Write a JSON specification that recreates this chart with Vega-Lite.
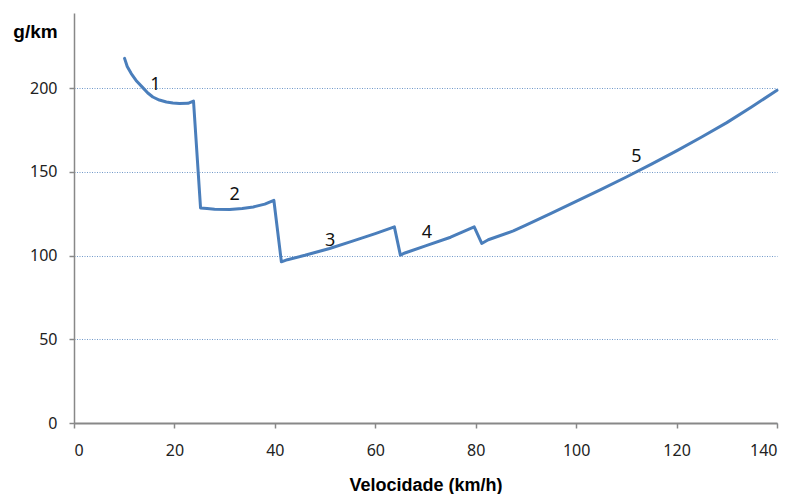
{
  "$schema": "https://vega.github.io/schema/vega-lite/v6.json",
  "autosize": "none",
  "width": 703,
  "height": 410,
  "padding": {"left": 74, "top": 13, "right": 15, "bottom": 71},
  "background": "white",
  "config": {
    "view": {"stroke": null},
    "font": "Noto Sans"
  },
  "datasets": {
    "curve": [
      {"v": 10.07, "e": 217.9}, {"v": 10.6, "e": 213.0}, {"v": 11.4, "e": 208.8}, {"v": 12.5, "e": 204.2},
      {"v": 13.7, "e": 200.4}, {"v": 14.7, "e": 197.2}, {"v": 15.7, "e": 194.8}, {"v": 17.0, "e": 193.0}, {"v": 18.4, "e": 191.8},
      {"v": 19.7, "e": 191.2}, {"v": 21.0, "e": 190.9}, {"v": 22.7, "e": 191.0}, {"v": 23.8, "e": 192.4}, {"v": 25.2, "e": 128.5},
      {"v": 26.5, "e": 128.2}, {"v": 28.0, "e": 127.8}, {"v": 31.0, "e": 127.6}, {"v": 33.5, "e": 128.2},
      {"v": 35.7, "e": 129.1}, {"v": 38.0, "e": 130.8}, {"v": 39.8, "e": 133.1}, {"v": 41.3, "e": 96.3},
      {"v": 42.5, "e": 97.6}, {"v": 46.0, "e": 100.2}, {"v": 50.9, "e": 104.3}, {"v": 55.0, "e": 108.2},
      {"v": 60.0, "e": 113.2}, {"v": 63.8, "e": 117.2}, {"v": 65.0, "e": 100.3}, {"v": 65.9, "e": 101.6},
      {"v": 70.0, "e": 105.8}, {"v": 75.0, "e": 111.0}, {"v": 79.7, "e": 117.2}, {"v": 81.2, "e": 107.3},
      {"v": 82.5, "e": 109.5}, {"v": 87.5, "e": 114.8}, {"v": 90.0, "e": 118.2}, {"v": 95.0, "e": 125.2},
      {"v": 100.0, "e": 132.4}, {"v": 105.0, "e": 139.6}, {"v": 110.0, "e": 147.0}, {"v": 115.0, "e": 154.7},
      {"v": 120.0, "e": 162.6}, {"v": 125.0, "e": 170.9}, {"v": 130.0, "e": 179.5}, {"v": 135.0, "e": 189.0},
      {"v": 140.0, "e": 198.8}
    ],
    "labels": [
      {"v": 16.2, "e": 202, "t": "1"},
      {"v": 32.0, "e": 136, "t": "2"},
      {"v": 51.0, "e": 109, "t": "3"},
      {"v": 70.3, "e": 113.4, "t": "4"},
      {"v": 112.0, "e": 159, "t": "5"}
    ]
  },
  "encoding": {
    "x": {
      "field": "v", "type": "quantitative",
      "scale": {"domain": [0, 140], "nice": false, "zero": true},
      "axis": {
        "values": [0, 20, 40, 60, 80, 100, 120, 140],
        "title": "Velocidade (km/h)",
        "titleFont": "Liberation Sans", "titleFontWeight": "bold", "titleFontSize": 18,
        "titleColor": "#000000", "titlePadding": 18,
        "labelFont": "Noto Sans", "labelFontSize": 16, "labelColor": "#222222", "labelPadding": 14,
        "domainColor": "#888888", "domainWidth": 2,
        "tickColor": "#888888", "tickWidth": 1.5, "tickSize": 5,
        "grid": false
      }
    },
    "y": {
      "field": "e", "type": "quantitative",
      "scale": {"domain": [0, 245], "nice": false},
      "axis": {
        "values": [0, 50, 100, 150, 200],
        "title": "g/km",
        "titleAngle": 0, "titleAlign": "center", "titleBaseline": "middle",
        "titleX": -39, "titleY": 18,
        "titleFont": "Liberation Sans", "titleFontWeight": "bold", "titleFontSize": 19, "titleColor": "#000000",
        "labelFont": "Noto Sans", "labelFontSize": 16, "labelColor": "#222222", "labelPadding": 12,
        "domainColor": "#888888", "domainWidth": 1.5,
        "tickColor": "#888888", "tickWidth": 1.5, "tickSize": 5,
        "grid": true, "gridColor": "#4f81bd", "gridDash": [1, 1.5], "gridWidth": 1, "gridOpacity": 0.8
      }
    }
  },
  "layer": [
    {
      "data": {"name": "curve"},
      "mark": {"type": "line", "color": "#4a7ebb", "strokeWidth": 3, "strokeJoin": "round", "strokeCap": "round"}
    },
    {
      "data": {"name": "labels"},
      "mark": {"type": "text", "font": "Noto Sans", "fontSize": 18, "color": "#111111", "align": "center", "baseline": "middle"},
      "encoding": {"text": {"field": "t"}}
    }
  ]
}
